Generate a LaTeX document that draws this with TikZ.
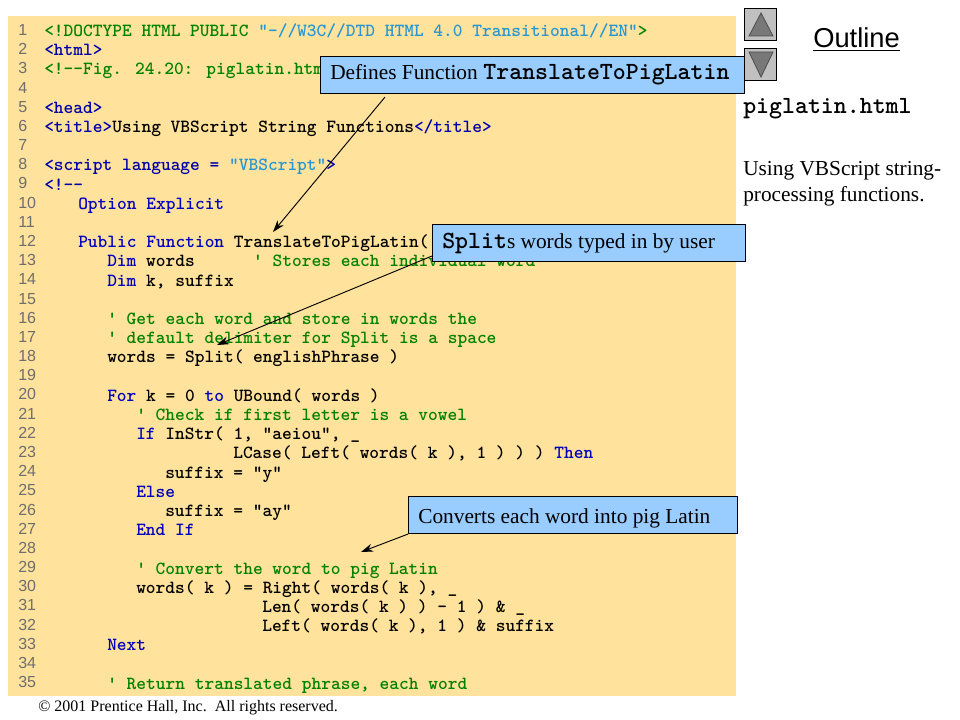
\documentclass[tikz,border=0pt]{standalone}
\usepackage{fontspec}
\setmainfont{Liberation Serif}
\setsansfont{Liberation Sans}
\usetikzlibrary{calc,arrows.meta}
\definecolor{codebg}{RGB}{255,226,155}
\definecolor{callblue}{RGB}{153,204,255}
\definecolor{kwblue}{RGB}{0,0,190}
\definecolor{tagblue}{RGB}{0,0,170}
\definecolor{cmtgreen}{RGB}{0,130,0}
\definecolor{strblue}{RGB}{40,150,210}
\definecolor{numgray}{RGB}{110,110,110}
\definecolor{navgray}{RGB}{192,192,192}
\definecolor{navdark}{RGB}{120,120,120}
\newcommand{\kw}[1]{\textcolor{kwblue}{#1}}
\newcommand{\tg}[1]{\textcolor{tagblue}{#1}}
\newcommand{\cm}[1]{\textcolor{cmtgreen}{#1}}
\newcommand{\st}[1]{\textcolor{strblue}{#1}}
\newcommand{\cl}[3]{\node[codeline] (c#1) at (#2,{31+19.2*(#1-1)+5.5}) {#3};\node[linenum] (n#1) at (18,{30+19.18*(#1-1)+5.5}) {#1};}
\newcommand{\bigmono}[1]{{\ttfamily\fontseries{b}\fontsize{18.5}{20}\selectfont #1}}
\tikzset{
  x=0.75pt,y=-0.75pt,
  codeline/.style={anchor=base west,inner sep=0pt,font=\ttfamily\fontseries{b}\fontsize{13.9}{16}\selectfont},
  linenum/.style={anchor=base west,inner sep=0pt,text=numgray,font=\sffamily\fontsize{12}{14}\selectfont},
  callout/.style={draw=black,fill=callblue,line width=0.8pt,anchor=north west,inner sep=0pt,align=left},
  calltext/.style={anchor=base west,inner sep=0pt,font=\fontsize{16}{18}\selectfont},
  callarrow/.style={draw=black,line width=0.7pt,-{Stealth[length=9pt,width=6pt]}},
  navbox/.style={draw=black,fill=navgray,line width=0.8pt},
  navtri/.style={draw=black!70,fill=navdark,line width=0.6pt},
  sidetext/.style={anchor=base west,inner sep=0pt,font=\fontsize{16}{19.5}\selectfont,align=left},
}
\begin{document}
\begin{tikzpicture}
\useasboundingbox (0,0) rectangle (960,720);
\fill[white] (0,0) rectangle (960,720);
\fill[codebg] (8,16) rectangle (736,696);
\cl{1}{44}{\cm{<!DOCTYPE HTML PUBLIC} \st{"-//W3C//DTD HTML 4.0 Transitional//EN"}\cm{>}}
\cl{2}{44}{\tg{<html>}}
\cl{3}{44}{\cm{<!--Fig. 24.20: piglatin.html}}
\cl{4}{44}{}
\cl{5}{44}{\tg{<head>}}
\cl{6}{44}{\tg{<title>}Using VBScript String Functions\tg{</title>}}
\cl{7}{44}{}
\cl{8}{44}{\tg{<script language =} \st{"VBScript"}\tg{>}}
\cl{9}{44}{\tg{<!--}}
\cl{10}{78}{\kw{Option Explicit}}
\cl{11}{44}{}
\cl{12}{78}{\kw{Public Function} TranslateToPigLatin(}
\cl{13}{107}{\kw{Dim} words\hspace{6\fontcharwd\font`x}\cm{' Stores each individual word}}
\cl{14}{107}{\kw{Dim} k, suffix}
\cl{15}{44}{}
\cl{16}{107}{\cm{' Get each word and store in words the}}
\cl{17}{107}{\cm{' default delimiter for Split is a space}}
\cl{18}{107}{words = Split( englishPhrase )}
\cl{19}{44}{}
\cl{20}{107}{\kw{For} k = 0 \kw{to} UBound( words )}
\cl{21}{136}{\cm{' Check if first letter is a vowel}}
\cl{22}{136}{\kw{If} InStr( 1, "aeiou", \_}
\cl{23}{233}{LCase( Left( words( k ), 1 ) ) ) \kw{Then}}
\cl{24}{165}{suffix = "y"}
\cl{25}{136}{\kw{Else}}
\cl{26}{165}{suffix = "ay"}
\cl{27}{136}{\kw{End If}}
\cl{28}{44}{}
\cl{29}{136}{\cm{' Convert the word to pig Latin}}
\cl{30}{136}{words( k ) = Right( words( k ), \_}
\cl{31}{262}{Len( words( k ) ) - 1 ) \& \_}
\cl{32}{262}{Left( words( k ), 1 ) \& suffix}
\cl{33}{107}{\kw{Next}}
\cl{34}{44}{}
\cl{35}{107}{\cm{' Return translated phrase, each word}}
% callouts
\coordinate (t1) at (273,232);
\coordinate (t2) at (217,345);
\coordinate (t3) at (361,552);
\node[callout,minimum width=423.5*0.75pt,minimum height=37*0.75pt] (defbox) at (320,56) {};
\node[calltext] (deft) at (330,80) {Defines Function\hspace{4.2pt}\bigmono{TranslateToPigLatin}};
\draw[callarrow] ([shift={(65,3)}]defbox.south west) -- (t1);
\node[callout,minimum width=312.5*0.75pt,minimum height=37*0.75pt] (splitbox) at (432,224) {};
\node[calltext] (splitt) at (442,249) {\bigmono{Split}s words typed in by user};
\draw[callarrow] ([shift={(0,32)}]splitbox.north west) -- (t2);
\node[callout,minimum width=328.5*0.75pt,minimum height=37*0.75pt] (convbox) at (408,496) {};
\node[calltext] (convt) at (418,523) {Converts each word into pig Latin};
\draw[callarrow] (convbox.south west) -- (t3);
% nav
\node[navbox,minimum width=32*0.75pt,minimum height=32*0.75pt,inner sep=0pt,anchor=north west] (upb) at (744,8) {};
\node[navbox,minimum width=32*0.75pt,minimum height=32*0.75pt,inner sep=0pt,anchor=north west] (dnb) at (744,48) {};
\draw[navtri] (761,13) -- (773,36) -- (749,36) -- cycle;
\draw[navtri] (749,52) -- (773,52) -- (761,77) -- cycle;
\node[anchor=base west,inner sep=0pt,font=\sffamily\fontsize{20.5}{24}\selectfont] (outl) at (813,48) {\underline{Outline}};
\node[sidetext,font=\ttfamily\fontseries{b}\fontsize{18.5}{20}\selectfont] (fname) at (743,113.5) {piglatin.html};
\node[sidetext] (d1) at (743,176) {Using VBScript string-};
\node[sidetext] (d2) at (743,202) {processing functions.};
\node[anchor=base west,inner sep=0pt,font=\fontsize{12}{14}\selectfont] (copy) at (38,711) {\textcopyright\ 2001 Prentice Hall, Inc.\ \ All rights reserved.};
\end{tikzpicture}
\end{document}
